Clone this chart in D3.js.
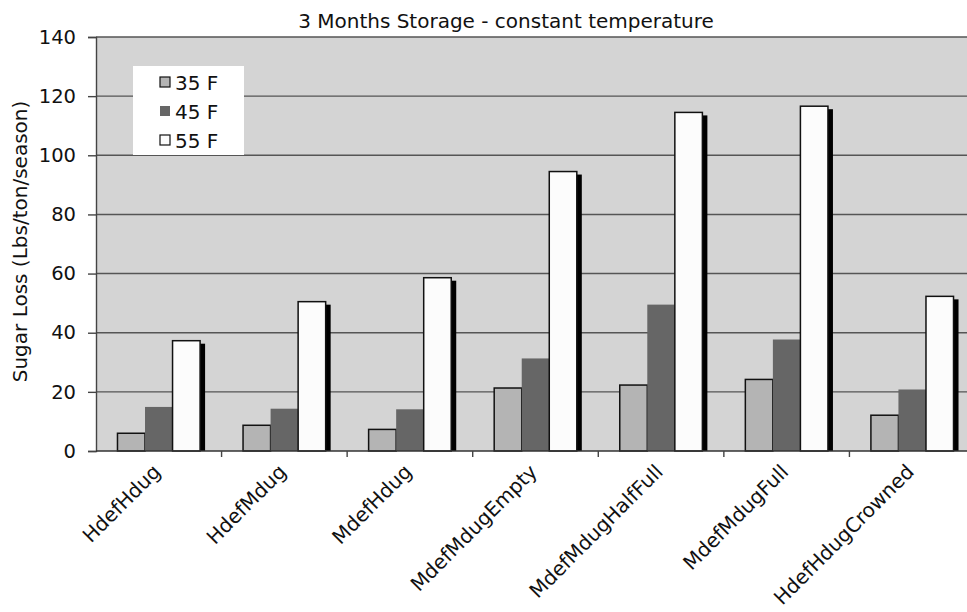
<!DOCTYPE html>
<html>
<head>
<meta charset="utf-8">
<script src="https://cdn.jsdelivr.net/npm/d3@7"></script>
<style>
  html, body { margin: 0; padding: 0; background: #fff; }
  svg { display: block; font-family: "DejaVu Sans", Verdana, sans-serif; }
</style>
</head>
<body>
<svg id="chart" width="967" height="612"></svg>
<script>
// Storage sugar-loss data (Lbs/ton/season), three storage temperatures
const categories = ["HdefHdug", "HdefMdug", "MdefHdug", "MdefMdugEmpty",
                    "MdefMdugHalfFull", "MdefMdugFull", "HdefHdugCrowned"];
const seriesNames = ["35 F", "45 F", "55 F"];
const temp35 = [6.0, 8.7, 7.3, 21.3, 22.3, 24.2, 12.1];
const temp45 = [14.9, 14.3, 14.1, 31.3, 49.5, 37.7, 20.8];
const temp55 = [37.3, 50.5, 58.6, 94.5, 114.5, 116.6, 52.3];
const yTicks = [0, 20, 40, 60, 80, 100, 120, 140];
const seriesColors = ["#b4b4b4", "#666666", "#fcfcfc"];
const seriesValues = [temp35, temp45, temp55];

const svg = d3.select("#chart");
const margin = { left: 96, right: -8, top: 37, bottom: 161 };
const W = 967, H = 612;
const plotW = W - margin.left - margin.right;
const plotH = H - margin.top - margin.bottom;

const x = d3.scaleBand().domain(categories).range([margin.left, margin.left + plotW]).paddingInner(0).paddingOuter(0);
const xs = d3.scaleBand().domain(seriesNames).range([0, x.bandwidth()]).paddingInner(0).paddingOuter(0.78);
const y = d3.scaleLinear().domain([0, 140]).range([margin.top + plotH, margin.top]);

// plot background
svg.append("rect")
  .attr("x", margin.left).attr("y", y(140))
  .attr("width", plotW).attr("height", y(0) - y(140))
  .attr("fill", "#d4d4d4");

// horizontal gridlines
svg.append("g").selectAll("line").data(yTicks.filter(d => d > 0)).join("line")
  .attr("x1", margin.left).attr("x2", margin.left + plotW)
  .attr("y1", d => y(d)).attr("y2", d => y(d))
  .attr("stroke", "#555").attr("stroke-width", 1.4);

// bars with drop shadows
const groups = svg.append("g").selectAll("g").data(categories).join("g")
  .attr("transform", d => `translate(${x(d)},0)`);

seriesNames.forEach((s, si) => {
  const vals = seriesValues[si];
  const g = groups.append("g");
  // shadow
  g.append("rect")
    .attr("x", xs(s) + 5)
    .attr("y", d => y(vals[categories.indexOf(d)]) + 3)
    .attr("width", xs.bandwidth())
    .attr("height", d => Math.max(0, y(0) - y(vals[categories.indexOf(d)]) - 3))
    .attr("fill", "#000");
  // bar
  g.append("rect")
    .attr("x", xs(s))
    .attr("y", d => y(vals[categories.indexOf(d)]))
    .attr("width", xs.bandwidth())
    .attr("height", d => y(0) - y(vals[categories.indexOf(d)]))
    .attr("fill", seriesColors[si])
    .attr("stroke", si === 1 ? "none" : "#111")
    .attr("stroke-width", 1.5);
});

// y axis
const yAxis = svg.append("g")
  .attr("transform", `translate(${margin.left},0)`)
  .call(d3.axisLeft(y).tickValues(yTicks).tickSize(8).tickPadding(12));
yAxis.select(".domain").attr("stroke", "#444").attr("stroke-width", 1.4);
yAxis.selectAll(".tick line").attr("stroke", "#444").attr("stroke-width", 1.4);
yAxis.selectAll(".tick text").attr("font-size", 19.5).attr("fill", "#111")
  .attr("font-family", "DejaVu Sans, Verdana, sans-serif");

// x axis baseline with ticks at category boundaries
const xAxisG = svg.append("g");
xAxisG.append("line")
  .attr("x1", margin.left).attr("x2", margin.left + plotW)
  .attr("y1", y(0)).attr("y2", y(0))
  .attr("stroke", "#333").attr("stroke-width", 1.5);
xAxisG.selectAll("line.tk").data(categories).join("line").attr("class", "tk")
  .attr("x1", d => x(d) + x.bandwidth()).attr("x2", d => x(d) + x.bandwidth())
  .attr("y1", y(0)).attr("y2", y(0) + 6)
  .attr("stroke", "#444").attr("stroke-width", 1.4);
xAxisG.selectAll("text").data(categories).join("text")
  .attr("transform", d => `translate(${x(d) + x.bandwidth() / 2 + 3},${y(0) + 22}) rotate(-45)`)
  .attr("text-anchor", "end")
  .attr("font-size", 20)
  .attr("fill", "#111")
  .text(d => d);

// title
svg.append("text")
  .attr("x", 506).attr("y", 28)
  .attr("text-anchor", "middle")
  .attr("font-size", 20)
  .attr("fill", "#111")
  .text("3 Months Storage - constant temperature");

// y axis title
svg.append("text")
  .attr("transform", "translate(27,241.5) rotate(-90)")
  .attr("text-anchor", "middle")
  .attr("font-size", 20)
  .attr("fill", "#111")
  .text("Sugar Loss (Lbs/ton/season)");

// legend
const legend = svg.append("g").attr("transform", "translate(133,66)");
legend.append("rect").attr("width", 111).attr("height", 89).attr("fill", "#fff");
const li = legend.selectAll("g").data(seriesNames).join("g")
  .attr("transform", (d, i) => `translate(27,${16 + i * 29})`);
li.append("rect")
  .attr("x", 0).attr("y", -5).attr("width", 10).attr("height", 10)
  .attr("fill", (d, i) => seriesColors[i])
  .attr("stroke", (d, i) => i === 1 ? "none" : "#111").attr("stroke-width", 1.2);
li.append("text")
  .attr("x", 15).attr("y", 8)
  .attr("font-size", 20).attr("fill", "#111")
  .text(d => d);
</script>
</body>
</html>
